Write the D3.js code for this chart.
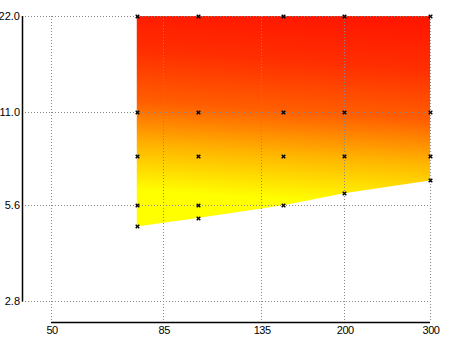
<!DOCTYPE html>
<html><head><meta charset="utf-8">
<script src="https://cdn.jsdelivr.net/npm/d3@7"></script>
<style>body{margin:0;background:#fff}svg{display:block}text{font-family:"Liberation Sans",Arial,sans-serif;font-size:11px;fill:#000}</style>
</head><body><svg id="c" width="450" height="337"></svg>
<script>
const xTicks = [50, 85, 135, 200, 300];
const yTicks = [2.8, 5.6, 11.0, 22.0];
const xCols = [75, 100, 150, 200, 300];
const yTop = [22, 22, 22, 22, 22];
const yBottom = [4.8, 5.1, 5.6, 6.1, 6.7];
const points = [
  [75,22],[75,11],[75,8.0],[75,5.6],[75,4.8],
  [100,22],[100,11],[100,8.0],[100,5.6],[100,5.1],
  [150,22],[150,11],[150,8.0],[150,5.6],
  [200,22],[200,11],[200,8.0],[200,6.1],
  [300,22],[300,11],[300,8.0],[300,6.7]
];
const colorStops = [
  {o:0, c:"#ff1800"},{o:0.23, c:"#ff2e00"},{o:0.5, c:"#ff5e00"},
  {o:0.73, c:"#ffb400"},{o:0.97, c:"#ffff00"},{o:1, c:"#ffff00"}
];

const svg = d3.select("#c");
const x = d3.scaleLog().domain([50, 300]).range([51, 430]);
const y = d3.scaleLog().domain([2.8, 22]).range([301, 16]);

const defs = svg.append("defs");
const g = defs.append("linearGradient").attr("id","grad").attr("gradientUnits","userSpaceOnUse")
  .attr("x1", 290).attr("y1", y(22)).attr("x2", 278).attr("y2", 205);
colorStops.forEach(s => g.append("stop").attr("offset", s.o).attr("stop-color", s.c));

const poly = xCols.map((v,i)=>[x(v), y(yTop[i])]).concat(xCols.map((v,i)=>[x(v), y(yBottom[i])]).reverse());
svg.append("path").attr("d", d3.line()(poly) + "Z").attr("fill","url(#grad)");

const grid = svg.append("g").attr("stroke","#888").attr("stroke-width",1).attr("stroke-dasharray","1,2");
yTicks.forEach(t => grid.append("line").attr("x1",22).attr("x2",430).attr("y1",Math.round(y(t))+0.5).attr("y2",Math.round(y(t))+0.5));
xTicks.forEach(t => grid.append("line").attr("y1",16).attr("y2",322).attr("x1",Math.round(x(t))+0.5).attr("x2",Math.round(x(t))+0.5));

svg.append("line").attr("x1",22.5).attr("x2",22.5).attr("y1",16).attr("y2",301.5).attr("stroke","#000").attr("stroke-width",1.5);
svg.append("line").attr("x1",51).attr("x2",430).attr("y1",322.5).attr("y2",322.5).attr("stroke","#000").attr("stroke-width",1.5);

yTicks.forEach(t => svg.append("text").attr("x",20).attr("y",y(t)+4).attr("text-anchor","end").text(t.toFixed(1)));
xTicks.forEach(t => svg.append("text").attr("x",x(t)+1).attr("y",334).attr("text-anchor","middle").style("letter-spacing","-0.5px").text(t));

const m = svg.append("g").attr("stroke","#000").attr("stroke-width",1.4);
points.forEach(p => {
  const cx = Math.round(x(p[0]))+0.5, cy = Math.round(y(p[1]))+0.5;
  m.append("path").attr("d",`M${cx-1.8},${cy-1.8}L${cx+1.8},${cy+1.8}M${cx-1.8},${cy+1.8}L${cx+1.8},${cy-1.8}`);
});
</script></body></html>
